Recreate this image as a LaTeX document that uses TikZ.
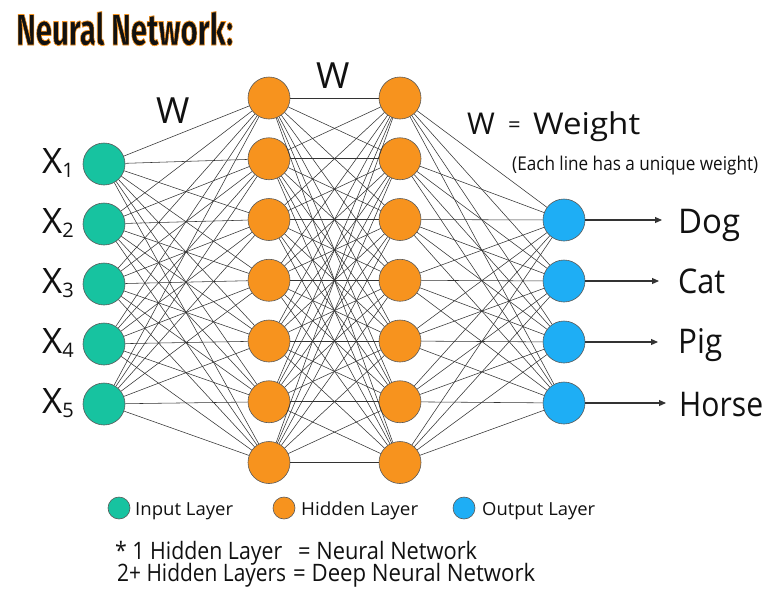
\documentclass[tikz,border=0pt]{standalone}
\usepackage{fontspec}
\setmainfont{Open Sans}
\newfontfamily\titlefont{Fira Sans}[BoldFeatures={FakeBold=1.8}]
\usetikzlibrary{arrows.meta}
\definecolor{inc}{HTML}{17C3A0}
\definecolor{hid}{HTML}{F7931E}
\definecolor{outc}{HTML}{1EAEF5}
\definecolor{edgec}{HTML}{333333}
\definecolor{txt}{HTML}{111111}
\newcommand\fitw[2]{\resizebox{#1}{\height}{#2}}
\tikzset{
  neuron/.style={circle,draw=black!65,line width=0.6pt,minimum size=42pt,inner sep=0pt},
  inl/.style={neuron,fill=inc},
  hidl/.style={neuron,fill=hid},
  outl/.style={neuron,fill=outc},
  legdot/.style={neuron,minimum size=22pt},
  conn/.style={draw=edgec,line width=0.55pt},
  arr/.style={draw=edgec,line width=1.1pt,-{Triangle[length=7pt,width=6pt]}},
  lbl/.style={anchor=base west,inner sep=0pt,text=txt},
  ttl/.style={anchor=base west,inner sep=0pt,font=\titlefont\bfseries\fontsize{44}{44}\selectfont},
}
\begin{document}
\begin{tikzpicture}[x=1pt,y=-1pt]
\useasboundingbox (0,0) rectangle (778,600);
\fill[white] (0,0) rectangle (778,600);
% neurons
\foreach \i/\y in {1/164,2/224,3/284,4/344,5/404}
  \node[inl] (i\i) at (104,\y) {};
\foreach \j in {1,...,7}{
  \node[hidl] (a\j) at (269,{98+60.75*(\j-1)}) {};
  \node[hidl] (b\j) at (400,{98+60.75*(\j-1)}) {};
}
\foreach \k/\y in {1/220,2/281,3/342,4/403}
  \node[outl] (o\k) at (564,\y) {};
% connections
\foreach \i in {1,...,5}
  \foreach \j in {1,...,7}
    \draw[conn] (i\i) -- (a\j);
\foreach \i in {1,...,7}
  \foreach \j in {1,...,7}
    \draw[conn] (a\i) -- (b\j);
\foreach \i in {1,...,7}
  \foreach \k in {1,...,4}
    \draw[conn] (b\i) -- (o\k);
% outputs
\coordinate (t1) at (662,220);
\coordinate (t2) at (659,281);
\coordinate (t3) at (658,342);
\coordinate (t4) at (666,403);
\foreach \k in {1,...,4}
  \draw[arr] (o\k) -- (t\k);
\node[lbl,font=\fontsize{34}{34}\selectfont] (dog) at (678,233) {\fitw{62pt}{Dog}};
\node[lbl,font=\fontsize{34}{34}\selectfont] (cat) at (678,293) {\fitw{47pt}{Cat}};
\node[lbl,font=\fontsize{34}{34}\selectfont] (pig) at (678,353) {\fitw{44pt}{Pig}};
\node[lbl,font=\fontsize{34}{34}\selectfont] (horse) at (679,416) {\fitw{84pt}{Horse}};
% input labels
\foreach \i/\y in {1/173,2/233,3/293,4/353,5/413}
  \node[lbl,font=\fontsize{35}{35}\selectfont] (x\i) at (42,\y) {X\raisebox{-4pt}{\fontsize{20}{20}\selectfont\i}};
% W labels
\node[lbl,font=\fontsize{36}{36}\selectfont] (w1) at (156,123) {W};
\node[lbl,font=\fontsize{36}{36}\selectfont] (w2) at (316,88) {W};
\node[lbl,font=\fontsize{30}{30}\selectfont] (w3) at (467,134) {W};
\node[lbl,font=\fontsize{22}{22}\selectfont] (eq) at (508,132) {=};
\node[lbl,font=\fontsize{30}{30}\selectfont] (weight) at (533,134) {\fitw{107pt}{Weight}};
\node[lbl,font=\fontsize{19}{19}\selectfont] (each) at (512,170) {\fitw{246pt}{(Each line has a unique weight)}};
% title: black fill, orange stroke (FakeBold strokes in the stroke colour)
\node[ttl,text=txt] (title) at (16,45) {\fitw{217pt}{\special{pdf:code 0.97 0.58 0.12 RG}Neural Network:}};
% legend
\node[legdot,fill=inc] (l1) at (119,508) {};
\node[legdot,fill=hid] (l2) at (284,508) {};
\node[legdot,fill=outc] (l3) at (464,508) {};
\node[lbl,font=\fontsize{18}{18}\selectfont] (lt1) at (135,515) {\fitw{98pt}{Input Layer}};
\node[lbl,font=\fontsize{18}{18}\selectfont] (lt2) at (301,515) {\fitw{117pt}{Hidden Layer}};
\node[lbl,font=\fontsize{18}{18}\selectfont] (lt3) at (482,515) {\fitw{113pt}{Output Layer}};
% bottom notes
\node[lbl,font=\fontsize{24}{24}\selectfont] (n1a) at (115,559) {\fitw{167pt}{* 1 Hidden Layer}};
\node[lbl,font=\fontsize{24}{24}\selectfont] (n1b) at (298,559) {\fitw{179pt}{= Neural Network}};
\node[lbl,font=\fontsize{24}{24}\selectfont] (n2a) at (117,581) {\fitw{169pt}{2+ Hidden Layers}};
\node[lbl,font=\fontsize{24}{24}\selectfont] (n2b) at (293,581) {\fitw{242pt}{= Deep Neural Network}};
\end{tikzpicture}
\end{document}
